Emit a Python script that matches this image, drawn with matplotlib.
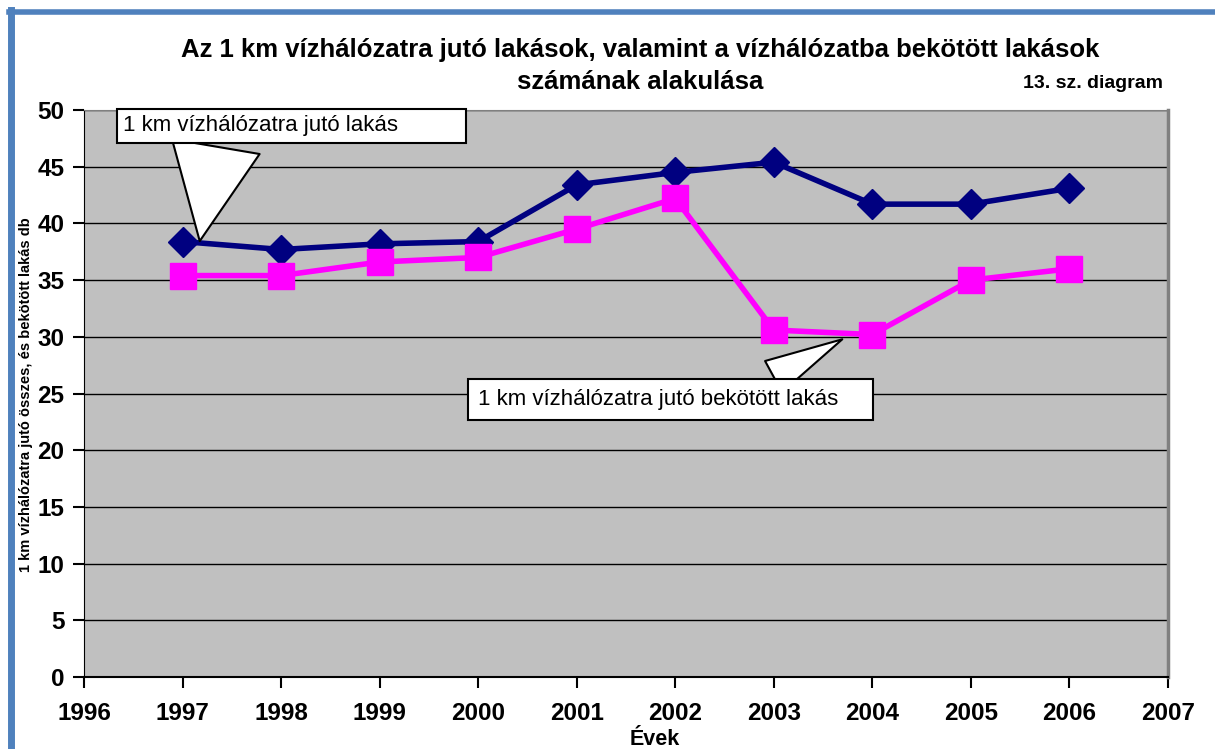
import matplotlib.pyplot as plt
from matplotlib.lines import Line2D

plt.rcParams['font.family'] = ['Liberation Sans', 'DejaVu Sans']

# data
years = [1997, 1998, 1999, 2000, 2001, 2002, 2003, 2004, 2005, 2006]
lakas = [38.4, 37.7, 38.2, 38.4, 43.4, 44.5, 45.4, 41.7, 41.7, 43.1]
bekotott = [35.4, 35.4, 36.6, 37.0, 39.5, 42.2, 30.6, 30.2, 35.0, 36.0]
x_ticks = list(range(1996, 2008))
y_ticks = list(range(0, 51, 5))

title_1 = 'Az 1 km vízhálózatra jutó lakások, valamint a vízhálózatba bekötött lakások'
title_2 = 'számának alakulása'
label_lakas = '1 km vízhálózatra jutó lakás'
label_bekotott = '1 km vízhálózatra jutó bekötött lakás'

fig = plt.figure(figsize=(12.15, 7.49), dpi=100)
ax = fig.add_axes([0.0691, 0.0961, 0.8922, 0.757])
ax.set_facecolor('#C0C0C0')

ax.plot(years, lakas, color='#000080', lw=4, marker='D', markersize=15, zorder=3)
ax.plot(years, bekotott, color='#FF00FF', lw=4, marker='s', markersize=19, zorder=3)

ax.set_xlim(1996, 2007)
ax.set_ylim(0, 50)
ax.set_xticks(x_ticks)
ax.set_yticks(y_ticks)
ax.tick_params(axis='both', labelsize=17.5, width=1.5, length=8, direction='out')
ax.tick_params(axis='x', pad=10)
ax.tick_params(axis='y', pad=6)
for lab in ax.get_xticklabels() + ax.get_yticklabels():
    lab.set_fontweight('bold')
ax.grid(axis='y', color='black', lw=1)
ax.set_axisbelow(True)
ax.spines['left'].set_color('black')
ax.spines['bottom'].set_color('black')
ax.spines['bottom'].set_linewidth(1.5)
ax.spines['top'].set_color('#808080')
ax.spines['right'].set_color('#808080')
ax.spines['right'].set_linewidth(2.5)

fig.text(0.539, 0.013, 'Évek', fontsize=15.5, fontweight='bold', ha='center', va='center')
fig.text(0.021, 0.473, '1 km vízhálózatra jutó összes, és bekötött lakás db',
         rotation=90, fontsize=10.5, fontweight='bold', ha='center', va='center')

fig.text(0.527, 0.933, title_1, ha='center', va='center', fontsize=18.5, fontweight='bold')
fig.text(0.527, 0.891, title_2, ha='center', va='center', fontsize=18.5, fontweight='bold')
fig.text(0.957, 0.889, '13. sz. diagram', ha='right', va='center',
         fontsize=14, fontweight='bold')

# callouts
ax.annotate(label_lakas + '          ', xy=(years[0] + 0.17, lakas[0] - 0.2),
            xytext=(1996.4, 48.6), fontsize=16, va='center',
            bbox=dict(boxstyle='square,pad=0.3', fc='white', ec='black', lw=1.5),
            arrowprops=dict(arrowstyle='wedge,tail_width=4,shrink_factor=0.5',
                            fc='white', ec='black', lw=1.5,
                            relpos=(0.28, 0.0)), zorder=5)
ax.annotate(label_bekotott + '    ', xy=(years[7] - 0.28, bekotott[7] - 0.3),
            xytext=(2000.0, 24.5), fontsize=16, va='center',
            bbox=dict(boxstyle='square,pad=0.45', fc='white', ec='black', lw=1.5),
            arrowprops=dict(arrowstyle='wedge,tail_width=1.6,shrink_factor=0.5',
                            fc='white', ec='black', lw=1.5,
                            relpos=(0.71, 1.0)), zorder=5)

# blue page frame
fig.add_artist(Line2D([0.007, 1.0], [0.984, 0.984], color='#4F81BD', lw=4,
                      transform=fig.transFigure))
fig.add_artist(Line2D([0.009, 0.009], [0.0, 0.986], color='#4F81BD', lw=5,
                      transform=fig.transFigure))

fig.savefig('out.png', dpi=100)
